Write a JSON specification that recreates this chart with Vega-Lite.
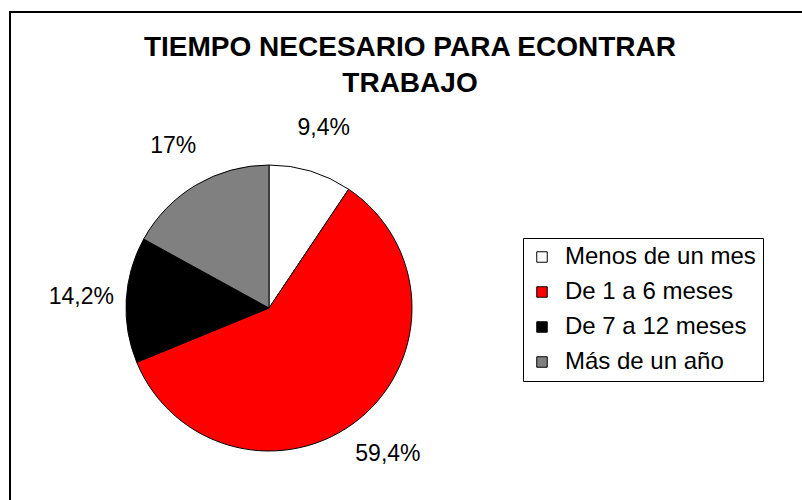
{
  "$schema": "https://vega.github.io/schema/vega-lite/v6.json",
  "autosize": {"type": "none"},
  "width": 518,
  "height": 592,
  "padding": {"left": 10, "top": 12, "right": 274, "bottom": -104},
  "background": "white",
  "view": {
    "stroke": "#000000",
    "strokeWidth": 2,
    "strokeDash": [518, 1110, 592]
  },
  "title": {
    "text": ["TIEMPO NECESARIO PARA ECONTRAR", "TRABAJO"],
    "anchor": "middle",
    "frame": "group",
    "orient": "top",
    "baseline": "top",
    "offset": -87,
    "dx": 141,
    "font": "Liberation Sans",
    "fontSize": 28,
    "fontWeight": "bold",
    "color": "#000000",
    "lineHeight": 36
  },
  "data": {
    "values": [
      {"categoria": "Menos de un mes", "porcentaje": 9.4, "etiqueta": "9,4%", "orden": 1},
      {"categoria": "De 1 a 6 meses", "porcentaje": 59.4, "etiqueta": "59,4%", "orden": 2},
      {"categoria": "De 7 a 12 meses", "porcentaje": 14.2, "etiqueta": "14,2%", "orden": 3},
      {"categoria": "Más de un año", "porcentaje": 17, "etiqueta": "17%", "orden": 4}
    ]
  },
  "encoding": {
    "theta": {"field": "porcentaje", "type": "quantitative", "stack": true},
    "order": {"field": "orden", "type": "quantitative"}
  },
  "layer": [
    {
      "mark": {"type": "arc", "outerRadius": 143, "stroke": "#000000", "strokeWidth": 1},
      "encoding": {
        "color": {
          "field": "categoria",
          "type": "nominal",
          "scale": {
            "domain": ["Menos de un mes", "De 1 a 6 meses", "De 7 a 12 meses", "Más de un año"],
            "range": ["#FFFFFF", "#FF0000", "#000000", "#808080"]
          },
          "legend": {
            "title": null,
            "orient": "none",
            "legendX": 513,
            "legendY": 226,
            "padding": 7,
            "strokeColor": "#000000",
            "fillColor": "#FFFFFF",
            "symbolType": "square",
            "symbolSize": 110,
            "symbolStrokeColor": "#000000",
            "symbolStrokeWidth": 1,
            "symbolOffset": 0,
            "labelFont": "Liberation Sans",
            "labelFontSize": 24,
            "labelColor": "#000000",
            "labelOffset": 11,
            "rowPadding": 11,
            "labelLimit": 300
          }
        }
      }
    },
    {
      "mark": {"type": "text", "radius": 188, "font": "Liberation Sans", "fontSize": 23, "color": "#000000", "strokeWidth": 0},
      "encoding": {
        "text": {"field": "etiqueta", "type": "nominal"},
        "stroke": {
          "field": "porcentaje",
          "type": "quantitative",
          "scale": {"range": ["#000000", "#000000"]},
          "legend": {
            "type": "gradient",
            "direction": "horizontal",
            "orient": "none",
            "legendX": 517,
            "legendY": -1,
            "padding": 0,
            "title": null,
            "gradientLength": 277,
            "gradientThickness": 2,
            "gradientStrokeWidth": 0,
            "labelOpacity": 0,
            "labelFontSize": 1
          }
        }
      }
    }
  ]
}
